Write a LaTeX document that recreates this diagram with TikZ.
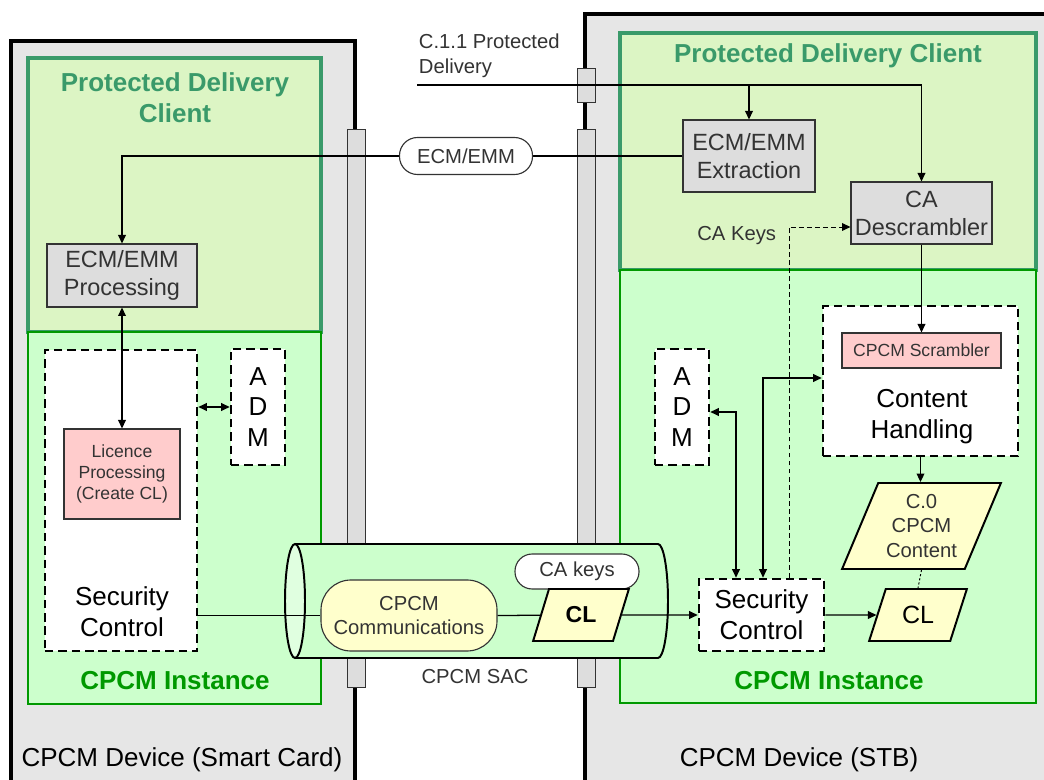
\documentclass[tikz,border=0pt]{standalone}
\usepackage{fontspec}
\setmainfont{Liberation Sans}
\usepackage{tikz}
\usetikzlibrary{arrows.meta, positioning, shapes.geometric}

\definecolor{devgray}{HTML}{E6E6E6}
\definecolor{pdcfill}{HTML}{DCF5C4}
\definecolor{pdcline}{HTML}{3A9A6A}
\definecolor{instfill}{HTML}{CCFFCC}
\definecolor{instline}{HTML}{009900}
\definecolor{boxgray}{HTML}{DDDDDD}
\definecolor{lpink}{HTML}{FFCCCC}
\definecolor{lyellow}{HTML}{FFFFCC}
\definecolor{txtgray}{HTML}{333333}

\newcommand{\fsHuge}{\fontsize{18.5}{22}\selectfont}
\newcommand{\fsMid}{\fontsize{16.7}{20}\selectfont}
\newcommand{\fsSmall}{\fontsize{14.4}{17.5}\selectfont}
\newcommand{\fsTiny}{\fontsize{12.5}{15}\selectfont}

\begin{document}
\begin{tikzpicture}[
		x=0.25mm, y=-0.25mm,
		device/.style={draw=black, line width=2.4pt, fill=devgray},
		pdcbox/.style={draw=pdcline, line width=2.4pt, fill=pdcfill},
		instbox/.style={draw=instline, line width=1.6pt, fill=instfill},
		bar/.style={draw=black!80, line width=0.7pt, fill=boxgray},
		graybox/.style={
			draw=black!80,
			line width=0.8pt,
			fill=boxgray,
			text=txtgray,
			align=center,
			inner sep=0pt,
			font=\fsMid
		},
		pinkbox/.style={
			draw=black!80,
			line width=0.8pt,
			fill=lpink,
			text=txtgray,
			align=center,
			inner sep=0pt
		},
		dashbox/.style={
			draw=black,
			line width=1.9pt,
			dash pattern=on 6pt off 3.5pt,
			fill=white,
			align=center,
			inner sep=0pt,
			font=\fsHuge
		},
		para/.style={
			trapezium,
			trapezium left angle=65,
			trapezium right angle=115,
			trapezium stretches=true,
			draw=black,
			line width=1.4pt,
			fill=lyellow,
			align=center,
			inner sep=0pt
		},
		pill/.style={draw=black!80, line width=0.8pt, align=center, inner sep=0pt},
		boxtitle/.style={font=\fsHuge\bfseries, align=center},
		wire/.style={line width=0.9pt},
		link/.style={line width=0.9pt, -{Triangle[length=6pt,width=5.5pt]}},
		dlink/.style={
			line width=0.9pt,
			{Triangle[length=6pt,width=5.5pt]}-{Triangle[length=6pt,width=5.5pt]}
		},
		keylink/.style={
			line width=0.7pt,
			dash pattern=on 3.5pt off 2.2pt,
			-{Triangle[length=6pt,width=5.5pt]}
		},
		dotwire/.style={line width=0.7pt, dash pattern=on 1.5pt off 1.5pt}
	]

	\useasboundingbox (0,0) rectangle (1044,780);
	\fill[white] (0,0) rectangle (1044,780);
	\clip (0,0) rectangle (1044,780);

	% devices and their parts
	\draw[device] (11,41) rectangle (355,800);
	\draw[device] (585,14) rectangle (1070,800);
	\draw[pdcbox] (28,58) rectangle (321,332);
	\draw[instbox] (28,332) rectangle (321,704);
	\draw[pdcbox] (620,33) rectangle (1036,270);
	\draw[instbox] (620,270) rectangle (1036,703);

	\node[boxtitle, text=pdcline] (pdcLt) at (175,98) {Protected Delivery\\Client};
	\node[boxtitle, text=instline] (instLt) at (175,681) {CPCM Instance};
	\node[boxtitle, text=pdcline] (pdcRt) at (828,56) {Protected Delivery Client};
	\node[boxtitle, text=instline] (instRt) at (829,681) {CPCM Instance};
	\node[font=\fsHuge] (devL) at (182,760) {CPCM Device (Smart Card)};
	\node[font=\fsHuge] (devR) at (799,760) {CPCM Device (STB)};

	% interfaces
	\draw[bar] (347,129) rectangle (365,687);
	\draw[bar] (577,129) rectangle (595,687);
	\draw[bar] (577,68) rectangle (595,102);

	% secure authenticated channel
	\fill[instfill] (295,544) -- (658,544)
		arc[start angle=-90, end angle=90, x radius=10, y radius=57] -- (295,658) -- cycle;
	\draw[line width=1.4pt] (295,658) -- (658,658)
		arc[start angle=90, end angle=-90, x radius=10, y radius=57] -- (295,544);
	\filldraw[fill=instfill!60!white, line width=1.4pt] (295,601) ellipse [x radius=10, y radius=57];
	\node[font=\fsSmall, text=txtgray] (sacT) at (475,677) {CPCM SAC};

	% smart card
	\node[graybox, minimum width=37.5mm, minimum height=15.75mm] (procL) at (122,275.5) {ECM/EMM\\Processing};
	\node[dashbox, minimum width=38mm, minimum height=75.25mm] (secL) at (121,500.5) {};
	\node[font=\fsHuge, align=center] (secLt) at (122,612) {Security\\Control};
	\node[pinkbox, font=\fsTiny, minimum width=29mm, minimum height=22.5mm] (licL) at (122,474) {Licence\\Processing\\(Create CL)};
	\node[dashbox, minimum width=13.5mm, minimum height=29mm] (admL) at (258,407) {A\\D\\M};

	% set top box
	\node[graybox, minimum width=33mm, minimum height=18mm] (extR) at (749,156) {ECM/EMM\\Extraction};
	\node[graybox, minimum width=35.25mm, minimum height=15.5mm] (descR) at (921.5,213) {CA\\Descrambler};
	\node[dashbox, minimum width=48.75mm, minimum height=37.5mm] (chR) at (920.5,381) {};
	\node[font=\fsHuge, align=center] (chRt) at (922,417) {Content\\Handling};
	\node[pinkbox, font=\fsTiny, minimum width=39.75mm, minimum height=8.75mm] (scrR) at (921.5,350.5) {CPCM Scrambler};
	\node[para, font=\fsSmall, text=txtgray, minimum width=39.75mm, minimum height=21.5mm] (c0R) at (921.5,526) {C.0\\CPCM\\Content};
	\node[para, font=\fontsize{17.8}{20}\selectfont, minimum width=24.5mm, minimum height=13mm] (clR) at (918,615) {CL};
	\node[dashbox, minimum width=31.25mm, minimum height=18mm] (secR) at (761.5,615) {Security\\Control};
	\node[dashbox, minimum width=13.5mm, minimum height=29mm] (admR) at (682,407) {A\\D\\M};

	% inside the channel
	\node[pill, fill=lyellow, font=\fsSmall, text=txtgray, rounded corners=7.5mm,
		minimum width=44mm, minimum height=17.75mm] (commS) at (409,615.5) {CPCM\\Communications};
	\node[pill, fill=white, font=\fsSmall, text=txtgray, rounded corners=4.3mm,
		minimum width=31mm, minimum height=8.75mm] (keysS) at (577,571.5) {CA keys};
	\node[para, font=\fontsize{16.4}{19}\selectfont\bfseries, minimum width=24mm, minimum height=13mm] (clS) at (581,615) {CL};

	% flows
	\coordinate (pdIn) at (417,85);
	\node[font=\fsSmall, text=txtgray, align=left, anchor=west] (pdT) at (414,56) {C.1.1 Protected\\Delivery};
	\draw[link] (pdIn) -| (descR.north);
	\draw[link] (extR.north |- pdIn) -- (extR.north);
	\draw[link] (extR.west) -| (procL.north);
	\node[pill, fill=white, font=\fsSmall, text=txtgray, rounded corners=4.5mm,
		minimum width=33.25mm, minimum height=9.25mm] (ecmP) at (466,156) {ECM/EMM};
	\draw[dlink] (procL.south) -- (licL.north);
	\draw[dlink] (secL.east |- admL.west) -- (admL.west);

	\draw[wire] (secL.east |- commS.west) -- (commS.west);
	\draw[wire] (commS.east) -- (clS);
	\draw[link] (clS) -- (secR.west);
	\draw[link] (secR.east) -- (clR);

	\draw[link] (descR.south) -- (descR.south |- scrR.north);
	\draw[link] (chR.south) -- (chR.south |- c0R.north);
	\draw[dotwire] (c0R.south) -- (clR.north);

	\coordinate (keyBend) at (789,227);
	\draw[keylink] (secR.north -| keyBend) -- (keyBend) -- (descR.west |- keyBend);
	\node[font=\fsSmall, text=txtgray, anchor=east] (keysT) at (781,236) {CA Keys};

	\coordinate (admBend) at (736,412);
	\draw[dlink] (admR.east |- admBend) -- (admBend) -- (secR.north -| admBend);
	\coordinate (chBend) at (763,378);
	\draw[dlink] (chR.west |- chBend) -- (chBend) -- (secR.north -| chBend);

\end{tikzpicture}
\end{document}
